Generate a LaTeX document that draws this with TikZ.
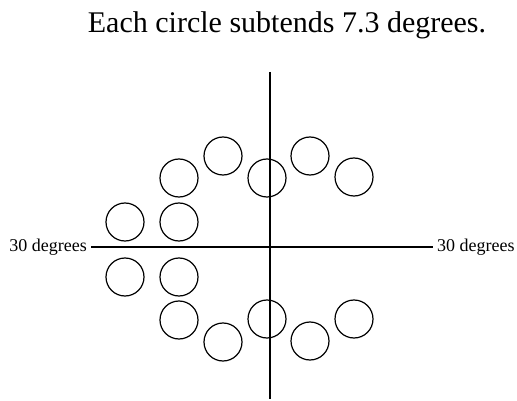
\documentclass[tikz,border=0pt]{standalone}
\usepackage{fontspec}
\setmainfont{Liberation Serif}
\usepackage{tikz}
\usetikzlibrary{positioning}

\tikzset{
  spot/.style={draw, circle, line width=1.2pt, minimum size=38pt, inner sep=0pt},
  axis/.style={line width=2.4pt},
  deglabel/.style={font=\fontsize{18}{20}\selectfont, inner sep=4pt}
}

\begin{document}
\begin{tikzpicture}[x=1pt,y=-1pt]
 \useasboundingbox (0,0) rectangle (517,401);
 \node[anchor=base, font=\fontsize{30}{34}\selectfont] (title) at (287,33) {Each circle subtends 7.3 degrees.};
 % axes
 \node[deglabel, anchor=east] (lft) at (91,247) {30 degrees};
 \node[deglabel, anchor=west] (rgt) at (433,247) {30 degrees};
 \coordinate (top) at (270,72);
 \coordinate (bot) at (270,399);
 \draw[axis] (lft) -- (rgt);
 \draw[axis] (top) -- (bot);
 % upper circles
 \node[spot] (ua) at (125,222) {};
 \node[spot] (ub) at (179,222) {};
 \node[spot] (uc) at (179,178) {};
 \node[spot] (ud) at (223,156) {};
 \node[spot] (ue) at (267,178) {};
 \node[spot] (uf) at (310,156) {};
 \node[spot] (ug) at (354,177) {};
 % lower circles
 \node[spot] (la) at (125,277) {};
 \node[spot] (lb) at (179,277) {};
 \node[spot] (lc) at (179,320) {};
 \node[spot] (ld) at (223,342) {};
 \node[spot] (le) at (267,319) {};
 \node[spot] (lf) at (310,341) {};
 \node[spot] (lg) at (354,319) {};
\end{tikzpicture}
\end{document}
